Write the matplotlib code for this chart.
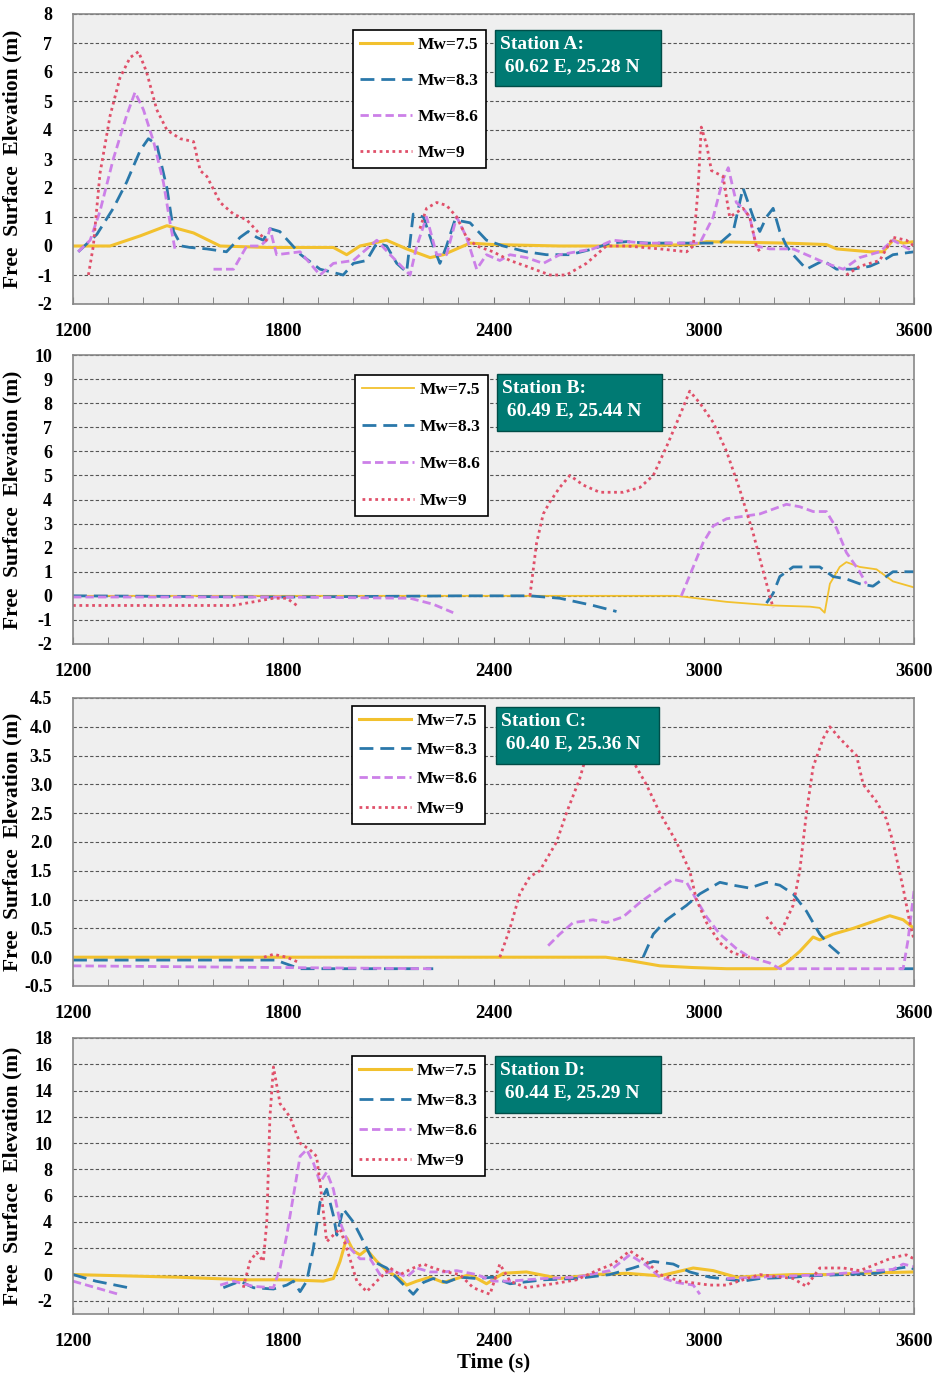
import numpy as np
import matplotlib
matplotlib.use('Agg')
import matplotlib.pyplot as plt
from matplotlib.patches import Rectangle

plt.rcParams['font.family'] = ['Liberation Serif', 'DejaVu Serif']
plt.rcParams['font.weight'] = 'bold'

nan = float('nan')

# (time s, elevation m), nan = gap
# Station A
a75 = [(1200, 0), (1306, 0), (1392, 0.35), (1468, 0.7), (1544, 0.45), (1620, 0.0), (1753, -0.05), (1943, -0.05),
       (1981, -0.3), (2019, 0.0), (2095, 0.2), (2152, -0.1), (2219, -0.4), (2257, -0.3), (2333, 0.1), (2399, 0.05),
       (2589, 0.0), (2780, 0.0), (2970, 0.05), (3008, 0.15), (3236, 0.1), (3350, 0.05), (3379, -0.1), (3474, -0.2),
       (3512, -0.2), (3540, 0.2), (3569, 0.1), (3600, 0.15)]
a83 = [(1215, -0.2), (1268, 0.4), (1315, 1.3), (1353, 2.2), (1392, 3.3), (1415, 3.7), (1439, 3.5), (1468, 2.0),
       (1487, 0.5), (1510, 0.0), (1534, -0.05), (1582, -0.1), (1638, -0.2), (1677, 0.3), (1700, 0.5), (1724, 0.3),
       (1743, 0.2), (1762, 0.6), (1790, 0.5), (1850, -0.3), (1905, -0.8), (1971, -1.0), (2000, -0.6), (2038, -0.5),
       (2067, 0.1), (2095, 0.0), (2124, -0.6), (2152, -0.9), (2171, 1.1), (2200, 1.0), (2228, 0.0), (2247, -0.6),
       (2266, 0.0), (2290, 0.9), (2333, 0.8), (2380, 0.2), (2428, 0.0), (2494, -0.2), (2551, -0.3), (2618, -0.3),
       (2684, -0.1), (2732, 0.1), (2780, 0.15), (2837, 0.1), (2922, 0.1), (3017, 0.1), (3046, 0.1), (3084, 0.5),
       (3112, 2.0), (3141, 1.0), (3160, 0.5), (3179, 1.0), (3198, 1.3), (3217, 0.5), (3236, 0.0), (3255, -0.3),
       (3293, -0.8), (3341, -0.5), (3379, -0.8), (3426, -0.8), (3474, -0.7), (3512, -0.5), (3540, -0.3), (3600, -0.2)]
a86 = [(1215, -0.2), (1249, 0.2), (1277, 1.2), (1315, 3.0), (1353, 4.5), (1377, 5.3), (1401, 4.7), (1430, 3.6),
       (1458, 2.2), (1477, 0.8), (1491, -0.1), (1550, nan), (1601, -0.8), (1658, -0.8), (1696, 0.0), (1734, 0.0),
       (1753, 0.2), (1762, 0.6), (1781, -0.3), (1848, -0.2), (1905, -1.0), (1943, -0.6), (2000, -0.5), (2067, 0.2),
       (2105, -0.3), (2162, -1.0), (2181, 0.0), (2209, 1.0), (2238, -0.3), (2266, -0.3), (2295, 1.0), (2323, 0.3),
       (2352, -0.8), (2380, -0.3), (2418, -0.5), (2447, -0.3), (2494, -0.4), (2542, -0.6), (2589, -0.3), (2684, -0.1),
       (2741, 0.2), (2827, 0.1), (2922, 0.1), (2989, 0.1), (3027, 1.0), (3055, 2.3), (3070, 2.7), (3093, 1.5),
       (3112, 1.3), (3131, 1.0), (3150, 0.0), (3188, -0.1), (3255, -0.1), (3350, -0.6), (3398, -0.8), (3445, -0.4),
       (3502, -0.2), (3540, 0.2), (3600, -0.2)]
a90 = [(1244, -1.0), (1258, 0.0), (1277, 2.5), (1306, 4.5), (1334, 5.8), (1363, 6.5), (1387, 6.7), (1410, 6.0),
       (1439, 4.7), (1468, 4.0), (1506, 3.7), (1544, 3.6), (1563, 2.6), (1582, 2.4), (1620, 1.5), (1658, 1.1),
       (1696, 0.9), (1734, 0.4), (1760, 0.1), (1900, nan), (2190, 0.6), (2209, 1.3), (2238, 1.5), (2266, 1.4),
       (2295, 1.0), (2323, 0.3), (2352, 0.0), (2399, -0.2), (2447, -0.5), (2494, -0.7), (2561, -1.0), (2608, -1.0),
       (2665, -0.6), (2722, 0.0), (2780, 0.0), (2875, -0.1), (2951, -0.2), (2970, 0.0), (2984, 2.0), (2993, 4.1),
       (3008, 3.5), (3022, 2.6), (3055, 2.4), (3074, 1.0), (3112, 1.3), (3131, 1.0), (3150, 0.0), (3160, -0.2),
       (3300, nan), (3407, -1.0), (3445, -0.7), (3502, -0.5), (3540, 0.3), (3578, 0.2), (3600, 0.0)]

# Station B
b75 = [(1200, 0.0), (2922, 0.0), (3065, -0.25), (3198, -0.4), (3303, -0.45), (3331, -0.5), (3345, -0.7),
       (3360, 0.5), (3388, 1.2), (3407, 1.4), (3445, 1.2), (3493, 1.1), (3540, 0.6), (3600, 0.35)]
b83 = [(1200, 0.0), (1800, -0.05), (2300, 0.0), (2504, 0.0), (2589, -0.1), (2684, -0.4), (2751, -0.65),
       (2900, nan), (3179, -0.3), (3198, 0.1), (3217, 0.8), (3255, 1.2), (3331, 1.2), (3369, 0.8), (3407, 0.7),
       (3445, 0.5), (3483, 0.4), (3521, 0.8), (3540, 1.0), (3600, 1.0)]
b86 = [(1200, -0.05), (1800, -0.05), (2162, -0.1), (2228, -0.35), (2285, -0.7), (2600, nan), (2936, 0.0),
       (2970, 1.2), (2998, 2.2), (3027, 2.9), (3065, 3.2), (3112, 3.3), (3160, 3.4), (3198, 3.6), (3236, 3.8),
       (3274, 3.7), (3312, 3.5), (3350, 3.5), (3379, 2.8), (3407, 1.8), (3445, 1.0), (3464, 0.5)]
b90 = [(1200, -0.4), (1657, -0.4), (1734, -0.2), (1772, -0.1), (1810, -0.1), (1839, -0.4), (2200, nan),
       (2504, 0.0), (2523, 2.2), (2542, 3.4), (2561, 3.9), (2589, 4.5), (2618, 5.0), (2656, 4.6), (2703, 4.3),
       (2770, 4.3), (2818, 4.5), (2856, 5.0), (2894, 6.2), (2932, 7.5), (2960, 8.5), (2989, 8.0), (3027, 7.2),
       (3065, 6.0), (3103, 4.4), (3141, 2.6), (3170, 1.0), (3198, -0.5)]

# Station C
c75 = [(1200, 0.0), (2720, 0.0), (2780, -0.05), (2875, -0.15), (2970, -0.18), (3065, -0.2), (3208, -0.2),
       (3236, -0.1), (3274, 0.1), (3312, 0.35), (3331, 0.3), (3369, 0.4), (3426, 0.5), (3474, 0.6), (3531, 0.72),
       (3569, 0.65), (3600, 0.5)]
c83 = [(1200, -0.05), (1780, -0.05), (1801, -0.1), (1848, -0.2), (1943, -0.2), (2228, -0.2), (2500, nan),
       (2827, 0.0), (2856, 0.4), (2894, 0.65), (2951, 0.9), (2989, 1.1), (3046, 1.3), (3084, 1.25), (3131, 1.2),
       (3179, 1.3), (3217, 1.25), (3255, 1.1), (3293, 0.8), (3331, 0.4), (3360, 0.2), (3398, 0.0), (3480, nan),
       (3560, -0.2), (3600, -0.2)]
c86 = [(1200, -0.15), (1800, -0.18), (2228, -0.2), (2400, nan), (2556, 0.2), (2589, 0.4), (2627, 0.6),
       (2684, 0.65), (2722, 0.6), (2770, 0.7), (2818, 0.95), (2875, 1.2), (2913, 1.35), (2951, 1.3), (2979, 1.0),
       (3008, 0.7), (3046, 0.4), (3093, 0.15), (3131, 0.0), (3188, -0.1), (3217, -0.2), (3569, -0.2), (3583, 0.3),
       (3600, 1.15)]
c90 = [(1745, 0.0), (1772, 0.05), (1810, 0.0), (1848, -0.1), (2000, nan), (2418, 0.0), (2447, 0.5),
       (2475, 1.1), (2504, 1.4), (2532, 1.5), (2580, 2.0), (2608, 2.5), (2646, 3.1), (2665, 3.5), (2694, 3.8),
       (2732, 4.0), (2760, 3.8), (2789, 3.5), (2836, 3.0), (2875, 2.5), (2922, 2.0), (2960, 1.5), (2979, 1.0),
       (3008, 0.6), (3046, 0.25), (3084, 0.07), (3131, 0.0), (3160, nan), (3179, 0.7), (3217, 0.4), (3255, 0.9),
       (3274, 1.5), (3293, 2.5), (3312, 3.3), (3341, 3.8), (3360, 4.0), (3388, 3.8), (3436, 3.5), (3455, 3.0),
       (3493, 2.7), (3521, 2.4), (3540, 2.0), (3569, 1.2), (3588, 0.6), (3600, 0.3)]

# Station D
d75 = [(1200, 0.0), (1500, -0.2), (1700, -0.4), (1820, -0.4), (1914, -0.5), (1943, -0.3), (1962, 1.0),
       (1981, 2.8), (2000, 1.8), (2019, 1.5), (2038, 1.9), (2067, 1.0), (2095, 0.3), (2133, -0.3), (2152, -0.8),
       (2181, -0.5), (2219, -0.2), (2257, -0.6), (2295, -0.3), (2333, 0.0), (2380, -0.7), (2428, 0.1), (2494, 0.2),
       (2589, -0.3), (2684, 0.0), (2780, 0.1), (2875, -0.1), (2970, 0.5), (3027, 0.3), (3093, -0.2), (3160, -0.1),
       (3255, 0.0), (3350, 0.0), (3445, 0.1), (3600, 0.2)]
d83 = [(1200, 0.0), (1265, -0.5), (1358, -1.0), (1500, nan), (1629, -1.0), (1677, -0.5), (1715, -1.0),
       (1772, -1.1), (1810, -0.8), (1829, -0.5), (1848, -1.3), (1867, -0.5), (1886, 2.0), (1905, 5.5), (1924, 6.5),
       (1943, 4.5), (1953, 3.0), (1971, 5.0), (2000, 4.0), (2029, 2.5), (2057, 1.0), (2095, 0.5), (2133, -0.5),
       (2171, -1.5), (2200, -0.6), (2228, -0.3), (2266, -0.6), (2304, -0.2), (2352, -0.3), (2399, -0.2),
       (2447, -0.7), (2542, -0.4), (2637, -0.3), (2732, 0.0), (2798, 0.5), (2856, 1.0), (2913, 0.8), (2960, 0.2),
       (3017, -0.2), (3112, -0.5), (3160, -0.3), (3255, -0.2), (3303, -0.1), (3398, 0.0), (3493, 0.1), (3559, 0.5),
       (3588, 0.6), (3600, 0.4)]
d86 = [(1200, -0.5), (1330, -1.5), (1450, nan), (1620, -0.8), (1658, -0.5), (1715, -0.9), (1772, -1.0),
       (1791, 0.5), (1810, 3.0), (1829, 6.0), (1848, 9.0), (1867, 9.5), (1886, 8.5), (1905, 7.0), (1924, 7.8),
       (1943, 6.5), (1962, 4.0), (1991, 2.0), (2019, 1.2), (2048, 1.2), (2076, 0.0), (2114, 0.3), (2152, -0.2),
       (2181, 0.5), (2219, 0.2), (2257, 0.2), (2295, 0.3), (2352, 0.0), (2399, -0.5), (2447, -0.5), (2542, -0.3),
       (2637, -0.2), (2732, 0.3), (2789, 1.5), (2836, 0.7), (2875, -0.2), (2922, -0.6), (2970, -0.8), (2989, -1.5),
       (3020, nan), (3065, -0.3), (3160, -0.2), (3255, -0.1), (3350, 0.0), (3445, 0.2), (3540, 0.4), (3569, 0.8),
       (3600, 0.6)]
d90 = [(1686, -1.0), (1705, 1.0), (1724, 1.7), (1743, 1.0), (1753, 4.0), (1762, 12.0), (1772, 15.8),
       (1791, 13.0), (1819, 12.0), (1848, 10.0), (1876, 9.5), (1895, 9.0), (1905, 7.0), (1924, 2.5), (1943, 3.0),
       (1962, 3.5), (1981, 2.0), (2010, -0.5), (2038, -1.3), (2067, -0.5), (2105, 0.5), (2133, 0.0), (2171, 0.5),
       (2200, 0.8), (2228, 0.5), (2266, 0.2), (2304, 0.0), (2342, -1.0), (2390, -1.5), (2418, 0.8), (2447, -0.5),
       (2494, -1.0), (2570, -0.7), (2637, -0.4), (2694, 0.3), (2741, 0.8), (2789, 1.8), (2836, 1.0), (2875, 0.0),
       (2932, -0.5), (3017, -0.8), (3065, -0.8), (3112, -0.4), (3160, 0.0), (3255, -0.3), (3293, -0.9),
       (3331, 0.5), (3398, 0.5), (3445, 0.3), (3493, 0.8), (3540, 1.3), (3578, 1.5), (3600, 1.2)]

labels = ['Mw=7.5', 'Mw=8.3', 'Mw=8.6', 'Mw=9']
stations = ['Station A:\n 60.62 E, 25.28 N', 'Station B:\n 60.49 E, 25.44 N',
            'Station C:\n 60.40 E, 25.36 N', 'Station D:\n 60.44 E, 25.29 N']

W, H = 936, 1373
fig = plt.figure(figsize=(W / 100, H / 100), dpi=100)

# pixel layout: axes top/bottom, legend box (x0,y0), station box (x0,y0,x1,y1)
panels = [
    dict(data=[a75, a83, a86, a90], top=14, bot=304, ylim=(-2, 8), yt=np.arange(-2, 9, 1), fmt='%d',
         leg=(353, 30), ls=1.15, box=(495, 30, 661, 86), lw75=2.2),
    dict(data=[b75, b83, b86, b90], top=355, bot=644, ylim=(-2, 10), yt=np.arange(-2, 11, 1), fmt='%d',
         leg=(355, 375), ls=1.2, box=(497, 374, 662, 431), lw75=1.3),
    dict(data=[c75, c83, c86, c90], top=698, bot=986, ylim=(-0.5, 4.5), yt=np.arange(-0.5, 4.51, 0.5), fmt='%.1f',
         leg=(352, 706), ls=0.75, box=(496, 707, 659, 764), lw75=2.2),
    dict(data=[d75, d83, d86, d90], top=1038, bot=1314, ylim=(-3, 18), yt=np.arange(-2, 19, 2), fmt='%d',
         leg=(352, 1056), ls=0.8, box=(495, 1056, 661, 1113), lw75=2.2),
]

L, R = 73, 914
for i, p in enumerate(panels):
    ax = fig.add_axes([L / W, 1 - p['bot'] / H, (R - L) / W, (p['bot'] - p['top']) / H])
    ax.set_facecolor('#efefef')
    styles = [dict(color='#f2c12e', lw=p['lw75'], ls='-'),
              dict(color='#2a78aa', lw=2.0, dashes=(5, 2.5)),
              dict(color='#cc80e8', lw=2.0, dashes=(3, 1.5)),
              dict(color='#e0506a', lw=2.0, dashes=(1, 1.3))]
    for s, lab, st in zip(p['data'], labels, styles):
        t, v = np.array(s, dtype=float).T
        ax.plot(t, v, label=lab, **st)

    ax.set_xlim(1200, 3600)
    ax.set_ylim(*p['ylim'])
    ax.set_xticks(np.arange(1200, 3601, 600))
    ax.set_xticks(np.arange(1200, 3601, 100), minor=True)
    ax.set_yticks(p['yt'])
    ax.yaxis.set_major_formatter(matplotlib.ticker.FormatStrFormatter(p['fmt']))
    ax.tick_params(axis='x', which='both', direction='in', length=5, color='#777777', pad=14, labelsize=13.5)
    ax.tick_params(axis='y', length=0, pad=15, labelsize=13)
    ax.yaxis.grid(True, linestyle=(0, (3, 2)), color='#555555', lw=0.8)
    ax.set_axisbelow(True)
    for sp in ax.spines.values():
        sp.set_color('#888888')
        sp.set_linewidth(1.2)

    ax.set_ylabel('Free  Surface  Elevation (m)', fontsize=15.5, fontweight='bold')
    ax.yaxis.set_label_coords((22 - L) / (R - L), 0.5)

    lx, ly = p['leg']
    lg = ax.legend(loc='upper left', bbox_to_anchor=(lx / W, 1 - ly / H), bbox_transform=fig.transFigure,
                   fontsize=12.5, frameon=True, fancybox=False, borderaxespad=0, borderpad=0.4,
                   handlelength=3.0, handletextpad=0.35, labelspacing=p['ls'])
    lg.get_frame().set_edgecolor('black')
    lg.get_frame().set_linewidth(1.2)
    lg.get_frame().set_facecolor('white')
    lg.get_frame().set_alpha(1)

    x0, y0, x1, y1 = p['box']
    fig.patches.append(Rectangle((x0 / W, 1 - y1 / H), (x1 - x0) / W, (y1 - y0) / H,
                                 transform=fig.transFigure, facecolor='#007a73', edgecolor='#004d48',
                                 lw=1, zorder=5))
    fig.text((x0 + 5) / W, 1 - (y0 + 6) / H, stations[i], color='white', fontsize=14, fontweight='bold',
             va='top', ha='left', linespacing=1.4, zorder=6)

    if i == 3:
        ax.set_xlabel('Time (s)', fontsize=15, fontweight='bold')
        ax.xaxis.set_label_coords(0.5, (p['bot'] - 1362) / (p['bot'] - p['top']))
        ax.xaxis.label.set_va('center')

fig.savefig('out.png', dpi=100)
